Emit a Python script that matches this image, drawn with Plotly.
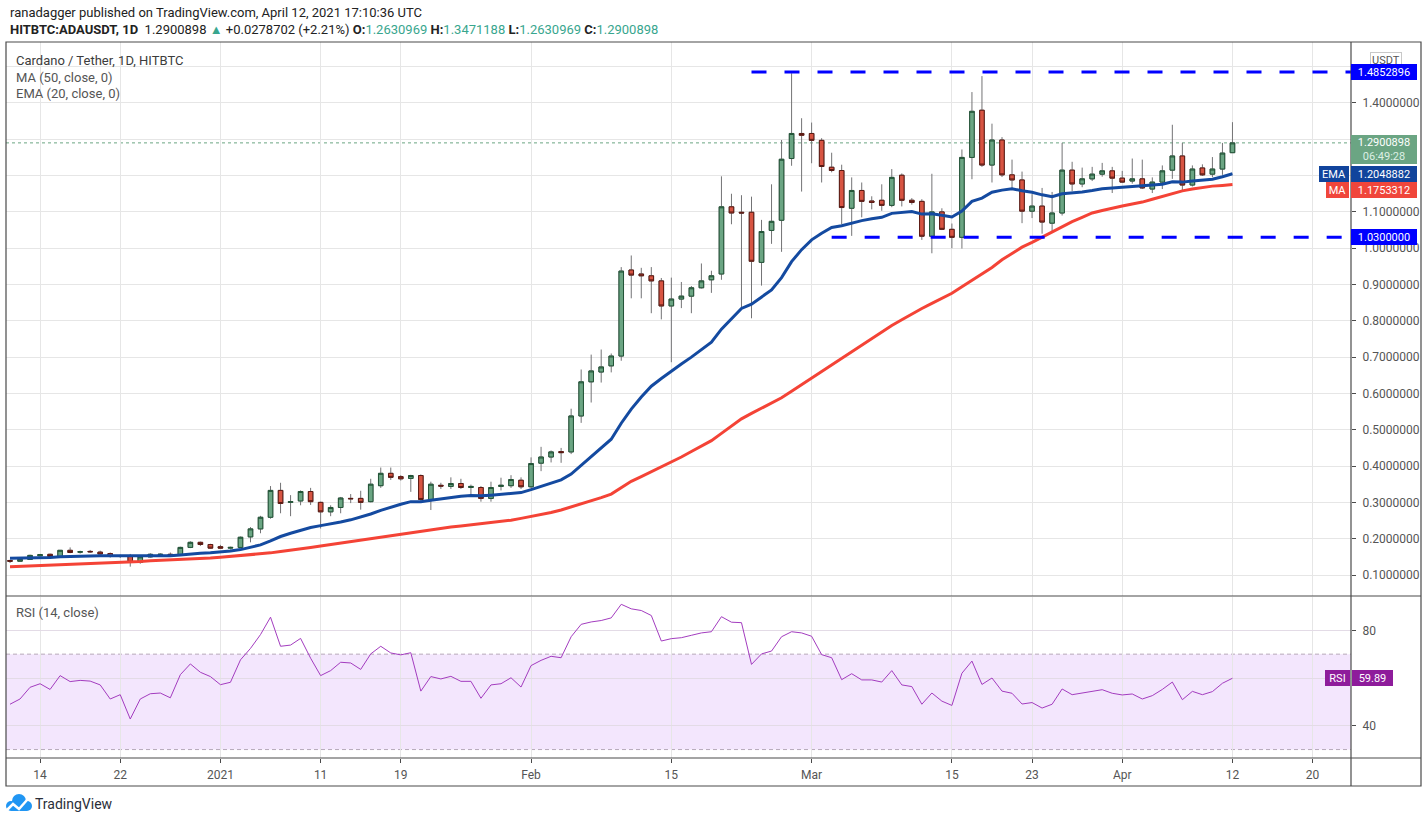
"""Cardano / Tether daily chart, TradingView style (HITBTC ADAUSDT)."""

import pandas as pd
import plotly.graph_objects as go

# daily candles from 2020-12-11 to 2021-04-12
dates = pd.date_range('2020-12-11', periods=123, freq='D')

open_ = [
  0.140, 0.138, 0.143, 0.153, 0.157, 0.151, 0.168, 0.163, 0.165, 0.163,
  0.159, 0.151, 0.153, 0.135, 0.150, 0.156, 0.157, 0.155, 0.176, 0.190,
  0.184, 0.178, 0.174, 0.176, 0.205, 0.227, 0.259, 0.333, 0.300, 0.304,
  0.330, 0.300, 0.274, 0.286, 0.311, 0.311, 0.302, 0.346, 0.380, 0.371,
  0.366, 0.374, 0.308, 0.347, 0.344, 0.352, 0.341, 0.341, 0.311, 0.344,
  0.346, 0.361, 0.343, 0.408, 0.425, 0.440, 0.439, 0.538, 0.632, 0.659,
  0.676, 0.703, 0.940, 0.929, 0.924, 0.910, 0.841, 0.860, 0.868, 0.891,
  0.913, 0.929, 1.114, 1.099, 1.099, 0.961, 1.049, 1.077, 1.247, 1.316,
  1.316, 1.297, 1.223, 1.214, 1.110, 1.159, 1.130, 1.132, 1.118, 1.201,
  1.132, 1.129, 1.033, 1.100, 1.052, 1.030, 1.250, 1.380, 1.229, 1.298,
  1.202, 1.188, 1.102, 1.116, 1.069, 1.097, 1.215, 1.177, 1.191, 1.204,
  1.213, 1.193, 1.185, 1.191, 1.163, 1.182, 1.215, 1.254, 1.174, 1.221,
  1.204, 1.218, 1.2630969,
]
high = [
  0.142, 0.145, 0.156, 0.158, 0.159, 0.169, 0.176, 0.167, 0.169, 0.167,
  0.162, 0.156, 0.158, 0.152, 0.160, 0.160, 0.162, 0.178, 0.193, 0.192,
  0.186, 0.183, 0.178, 0.206, 0.232, 0.263, 0.345, 0.354, 0.320, 0.333,
  0.340, 0.302, 0.292, 0.315, 0.323, 0.332, 0.365, 0.396, 0.396, 0.375,
  0.376, 0.377, 0.357, 0.354, 0.369, 0.365, 0.349, 0.345, 0.357, 0.368,
  0.375, 0.369, 0.424, 0.453, 0.443, 0.450, 0.558, 0.666, 0.707, 0.721,
  0.710, 0.948, 0.980, 0.946, 0.948, 0.918, 0.919, 0.907, 0.896, 0.958,
  0.938, 1.198, 1.150, 1.146, 1.142, 1.078, 1.176, 1.298, 1.482, 1.358,
  1.346, 1.303, 1.263, 1.230, 1.195, 1.181, 1.143, 1.176, 1.218, 1.206,
  1.138, 1.135, 1.205, 1.110, 1.068, 1.272, 1.430, 1.474, 1.343, 1.306,
  1.244, 1.211, 1.149, 1.166, 1.155, 1.290, 1.238, 1.222, 1.224, 1.235,
  1.224, 1.213, 1.247, 1.244, 1.195, 1.228, 1.340, 1.290, 1.228, 1.231,
  1.251, 1.290, 1.3471188,
]
low = [
  0.133, 0.137, 0.142, 0.151, 0.149, 0.150, 0.160, 0.159, 0.161, 0.156,
  0.148, 0.147, 0.123, 0.131, 0.148, 0.152, 0.150, 0.154, 0.174, 0.180,
  0.172, 0.173, 0.170, 0.175, 0.190, 0.215, 0.255, 0.270, 0.262, 0.292,
  0.293, 0.228, 0.262, 0.270, 0.298, 0.280, 0.300, 0.340, 0.362, 0.360,
  0.329, 0.302, 0.279, 0.337, 0.337, 0.337, 0.318, 0.302, 0.302, 0.333,
  0.340, 0.337, 0.338, 0.386, 0.410, 0.409, 0.433, 0.519, 0.575, 0.630,
  0.658, 0.690, 0.862, 0.862, 0.821, 0.804, 0.686, 0.835, 0.821, 0.889,
  0.877, 0.913, 1.066, 0.834, 0.807, 0.897, 1.012, 0.990, 1.227, 1.156,
  1.234, 1.181, 1.209, 1.066, 1.034, 1.085, 1.107, 1.103, 1.113, 1.115,
  1.120, 1.023, 0.986, 1.050, 1.000, 0.999, 1.190, 1.224, 1.181, 1.196,
  1.161, 1.069, 1.083, 1.040, 1.046, 1.090, 1.157, 1.168, 1.185, 1.197,
  1.152, 1.180, 1.178, 1.163, 1.152, 1.163, 1.191, 1.157, 1.170, 1.199,
  1.196, 1.202, 1.2630969,
]
close = [
  0.138, 0.143, 0.154, 0.156, 0.151, 0.168, 0.162, 0.164, 0.164, 0.158,
  0.151, 0.152, 0.135, 0.150, 0.157, 0.157, 0.155, 0.176, 0.190, 0.184,
  0.174, 0.174, 0.176, 0.204, 0.227, 0.259, 0.333, 0.297, 0.302, 0.330,
  0.302, 0.274, 0.286, 0.312, 0.310, 0.300, 0.350, 0.380, 0.369, 0.365,
  0.374, 0.308, 0.350, 0.345, 0.352, 0.341, 0.344, 0.311, 0.341, 0.347,
  0.363, 0.343, 0.407, 0.425, 0.439, 0.437, 0.538, 0.632, 0.662, 0.673,
  0.703, 0.937, 0.926, 0.924, 0.910, 0.841, 0.860, 0.868, 0.891, 0.910,
  0.924, 1.114, 1.097, 1.097, 0.964, 1.046, 1.074, 1.245, 1.316, 1.311,
  1.297, 1.225, 1.214, 1.112, 1.159, 1.129, 1.126, 1.118, 1.195, 1.132,
  1.126, 1.033, 1.100, 1.052, 1.030, 1.250, 1.377, 1.229, 1.298, 1.202,
  1.188, 1.102, 1.116, 1.072, 1.097, 1.215, 1.177, 1.191, 1.204, 1.213,
  1.193, 1.182, 1.191, 1.166, 1.182, 1.213, 1.254, 1.174, 1.218, 1.202,
  1.218, 1.262, 1.2900898,
]

# EMA (20, close) and MA (50, close) as drawn
ema20 = [
  0.146, 0.146, 0.147, 0.148, 0.148, 0.150, 0.151, 0.152, 0.153, 0.153,
  0.153, 0.153, 0.152, 0.152, 0.152, 0.153, 0.153, 0.155, 0.158, 0.160,
  0.161, 0.163, 0.166, 0.170, 0.176, 0.183, 0.194, 0.206, 0.215, 0.224,
  0.231, 0.236, 0.240, 0.246, 0.252, 0.259, 0.268, 0.278, 0.287, 0.295,
  0.302, 0.302, 0.306, 0.310, 0.313, 0.317, 0.319, 0.318, 0.320, 0.322,
  0.326, 0.327, 0.335, 0.344, 0.353, 0.362, 0.378, 0.402, 0.427, 0.450,
  0.474, 0.518, 0.557, 0.590, 0.620, 0.641, 0.662, 0.681, 0.700, 0.720,
  0.741, 0.777, 0.806, 0.834, 0.846, 0.865, 0.885, 0.919, 0.963, 0.996,
  1.023, 1.041, 1.057, 1.062, 1.070, 1.076, 1.081, 1.085, 1.096, 1.099,
  1.101, 1.094, 1.095, 1.091, 1.086, 1.102, 1.129, 1.138, 1.154, 1.160,
  1.164, 1.158, 1.154, 1.147, 1.142, 1.150, 1.152, 1.155, 1.159, 1.164,
  1.166, 1.168, 1.170, 1.170, 1.172, 1.176, 1.183, 1.182, 1.185, 1.187,
  1.190, 1.197, 1.2048882,
]
ma50 = [
  0.123, 0.124, 0.125, 0.126, 0.127, 0.128, 0.129, 0.130, 0.131, 0.132,
  0.134, 0.135, 0.136, 0.137, 0.139, 0.140, 0.141, 0.143, 0.144, 0.146,
  0.147, 0.149, 0.151, 0.153, 0.155, 0.158, 0.161, 0.165, 0.168, 0.172,
  0.176, 0.180, 0.184, 0.188, 0.193, 0.197, 0.201, 0.205, 0.209, 0.214,
  0.218, 0.222, 0.226, 0.229, 0.232, 0.235, 0.238, 0.241, 0.244, 0.248,
  0.251, 0.256, 0.261, 0.266, 0.272, 0.279, 0.287, 0.295, 0.304, 0.313,
  0.323, 0.341, 0.358, 0.371, 0.384, 0.397, 0.410, 0.425, 0.440, 0.455,
  0.470, 0.490, 0.510, 0.530, 0.545, 0.559, 0.573, 0.588, 0.606, 0.624,
  0.642, 0.661, 0.679, 0.697, 0.715, 0.733, 0.751, 0.770, 0.787, 0.803,
  0.819, 0.834, 0.848, 0.862, 0.876, 0.894, 0.911, 0.929, 0.947, 0.968,
  0.986, 1.003, 1.016, 1.030, 1.045, 1.060, 1.073, 1.085, 1.097, 1.104,
  1.111, 1.116, 1.122, 1.127, 1.135, 1.143, 1.152, 1.158, 1.163, 1.168,
  1.171, 1.173, 1.1753312,
]

# RSI (14, close)
rsi14 = [
  49.0, 51.2, 56.1, 57.6, 55.2, 61.0, 58.5, 59.0, 58.7, 57.1,
  51.2, 53.0, 42.8, 51.2, 53.4, 53.7, 51.7, 61.4, 65.9, 62.4,
  60.6, 57.2, 58.2, 67.6, 72.4, 78.2, 85.5, 73.3, 73.8, 76.6,
  68.3, 61.0, 63.1, 66.6, 66.3, 63.6, 70.1, 73.3, 70.5, 69.7,
  70.6, 54.5, 60.6, 59.6, 60.7, 58.6, 58.6, 51.5, 57.1, 57.6,
  60.1, 56.2, 65.2, 67.4, 69.1, 68.5, 77.3, 82.5, 83.5, 84.1,
  85.2, 90.9, 89.0, 88.3, 86.2, 75.5, 76.5, 76.9, 77.9, 78.9,
  79.4, 85.7, 83.4, 83.2, 65.7, 70.1, 71.3, 77.3, 79.4, 78.9,
  77.5, 69.8, 68.5, 59.3, 61.8, 59.2, 59.2, 58.3, 63.1, 57.1,
  56.4, 49.0, 53.7, 50.3, 48.5, 62.0, 67.1, 57.3, 60.0, 54.5,
  53.6, 49.1, 49.7, 47.4, 49.0, 55.4, 53.0, 53.7, 54.7, 55.1,
  53.6, 52.9, 53.3, 51.2, 52.6, 55.2, 58.3, 50.9, 54.4, 53.0,
  54.3, 57.8, 59.89,
]

# horizontal levels drawn on the chart
resistance = 1.4852896
resistance_from = '2021-02-23'
support = 1.03
support_from = '2021-03-03'

price_ticks = [0.1, 0.2, 0.3, 0.4, 0.5, 0.6, 0.7, 0.8, 0.9, 1.0, 1.1, 1.2, 1.3, 1.4, 1.5]
# labels hidden behind the price tags on the right scale
price_hidden = [1.2, 1.3, 1.5]
rsi_ticks = [40, 60, 80]
rsi_ticktext = ['40', '', '80']
x_tickvals = ['2020-12-14', '2020-12-22', '2021-01-01', '2021-01-11', '2021-01-19',
              '2021-02-01', '2021-02-15', '2021-03-01', '2021-03-15', '2021-03-23',
              '2021-04-01', '2021-04-12', '2021-04-20']
x_ticktext = ['14', '22', '2021', '11', '19', 'Feb', '15', 'Mar', '15', '23', 'Apr', '12', '20']

for arr in (open_, high, low, close, ema20, ma50, rsi14):
  assert len(arr) == len(dates)

# page geometry (pixels)
W, H = 1428, 823
L, R, T, B = 6, 1351, 42, 758


def px(x):
  return (x - L) / (R - L)


def py(y):
  return (B - y) / (B - T)


FONT = 'Roboto, Arial, sans-serif'
UP, UP_LINE = '#6ba583', '#225437'
DOWN, DOWN_LINE = '#d75442', '#5b1a13'
WICK = '#737375'
GRID = '#e6e6e6'
FRAME = '#4a4a4a'
EMA_C, MA_C, RSI_C = '#144aa0', '#f44336', '#a33cbf'

body_hi = [max(o, c) for o, c in zip(open_, close)]
body_lo = [min(o, c) for o, c in zip(open_, close)]

fig = go.Figure()

# wicks (grey) and bodies (coloured) as two candle layers
fig.add_trace(go.Candlestick(
  x=dates, open=open_, high=high, low=low, close=close,
  increasing=dict(line=dict(color=WICK, width=1), fillcolor=WICK),
  decreasing=dict(line=dict(color=WICK, width=1), fillcolor=WICK),
  whiskerwidth=0, hoverinfo='skip', showlegend=False,
  xaxis='x', yaxis='y'
))
fig.add_trace(go.Candlestick(
  x=dates, open=open_, high=body_hi, low=body_lo, close=close,
  increasing=dict(line=dict(color=UP_LINE, width=1), fillcolor=UP),
  decreasing=dict(line=dict(color=DOWN_LINE, width=1), fillcolor=DOWN),
  whiskerwidth=0, hoverinfo='skip', showlegend=False,
  xaxis='x', yaxis='y'
))
fig.add_trace(go.Scatter(
  x=dates, y=ma50, mode='lines', line=dict(color=MA_C, width=3),
  hoverinfo='skip', showlegend=False, xaxis='x', yaxis='y'
))
fig.add_trace(go.Scatter(
  x=dates, y=ema20, mode='lines', line=dict(color=EMA_C, width=3),
  hoverinfo='skip', showlegend=False, xaxis='x', yaxis='y'
))
fig.add_trace(go.Scatter(
  x=dates, y=rsi14, mode='lines', line=dict(color=RSI_C, width=1),
  hoverinfo='skip', showlegend=False, xaxis='x2', yaxis='y2'
))

x_range = ['2020-12-10 14:24', '2021-04-23 19:55']
tickfont = dict(family=FONT, size=12, color='#555555')

fig.update_layout(
  width=W, height=H,
  margin=dict(l=L, r=W - R, t=T, b=H - B, pad=0),
  paper_bgcolor='white', plot_bgcolor='white',
  font=dict(family=FONT, size=12, color='#333333'),
  showlegend=False, hovermode=False,
  boxgap=0.35,
  xaxis=dict(
    domain=[0, 1], anchor='y', matches='x2', range=x_range,
    rangeslider=dict(visible=False),
    tickvals=x_tickvals, showticklabels=False, ticks='',
    showgrid=True, gridcolor=GRID, gridwidth=1, zeroline=False, showline=False,
  ),
  yaxis=dict(
    domain=[py(596), 1], anchor='x', side='right', range=[0.0422, 1.5679],
    tickvals=price_ticks,
    ticktext=['' if v in price_hidden else '%.7f' % v for v in price_ticks],
    ticks='outside', ticklen=4, tickcolor=FRAME, tickfont=tickfont,
    ticklabelstandoff=4,
    showgrid=True, gridcolor=GRID, gridwidth=1, zeroline=False, showline=False,
  ),
  xaxis2=dict(
    domain=[0, 1], anchor='y2', range=x_range,
    rangeslider=dict(visible=False),
    tickvals=x_tickvals, ticktext=x_ticktext,
    ticks='outside', ticklen=4, tickcolor=FRAME, tickfont=tickfont,
    ticklabelstandoff=2,
    showgrid=True, gridcolor=GRID, gridwidth=1, zeroline=False, showline=False,
  ),
  yaxis2=dict(
    domain=[0, py(597)], anchor='x2', side='right', range=[26.46, 93.96],
    tickvals=rsi_ticks, ticktext=rsi_ticktext,
    ticks='outside', ticklen=4, tickcolor=FRAME, tickfont=tickfont,
    ticklabelstandoff=4,
    showgrid=True, gridcolor='#e3dbe6', gridwidth=1, zeroline=False, showline=False,
  ),
)

shapes = []
# RSI band 30-70
shapes.append(dict(type='rect', xref='x2', yref='y2', x0=x_range[0], x1=x_range[1], y0=30, y1=70,
                   fillcolor='#f3e6fd', line=dict(width=0), layer='below'))
for lvl in (30, 70):
  shapes.append(dict(type='line', xref='x2', yref='y2', x0=x_range[0], x1=x_range[1],
                     y0=lvl, y1=lvl,
                     line=dict(color='#b6a9ba', width=1, dash='4px,3px'), layer='below'))
# last price dotted line
shapes.append(dict(type='line', xref='x', yref='y', x0=x_range[0], x1=x_range[1],
                   y0=close[-1], y1=close[-1],
                   line=dict(color=UP, width=1, dash='dot'), layer='below'))
# resistance / support drawings
shapes.append(dict(type='line', xref='x', yref='y', x0=resistance_from, x1=x_range[1],
                   y0=resistance, y1=resistance,
                   line=dict(color='#0000ff', width=3, dash='15px,18px'), layer='above'))
shapes.append(dict(type='line', xref='x', yref='y', x0=support_from, x1=x_range[1],
                   y0=support, y1=support,
                   line=dict(color='#0000ff', width=3, dash='15px,18px'), layer='above'))
# frame
fr = dict(color=FRAME, width=1.2)
shapes.append(dict(type='rect', xref='paper', yref='paper', x0=0, x1=px(1421), y0=py(786), y1=1,
                   line=fr, fillcolor='rgba(0,0,0,0)', layer='above'))
shapes.append(dict(type='line', xref='paper', yref='paper', x0=1, x1=1, y0=py(786), y1=1,
                   line=fr, layer='above'))
shapes.append(dict(type='line', xref='paper', yref='paper', x0=0, x1=px(1421), y0=0, y1=0,
                   line=fr, layer='above'))
shapes.append(dict(type='line', xref='paper', yref='paper', x0=0, x1=px(1421),
                   y0=py(596), y1=py(596), line=fr, layer='above'))
# TradingView logo (cloud)
LOGO = '#2196f3'
for cx, cy, r in [(11, 806, 5), (19, 801, 7), (27, 806, 5)]:
  shapes.append(dict(type='circle', xref='paper', yref='paper',
                     x0=px(cx - r), x1=px(cx + r), y0=py(cy + r), y1=py(cy - r),
                     fillcolor=LOGO, line=dict(width=0), layer='above'))
shapes.append(dict(type='rect', xref='paper', yref='paper', x0=px(11), x1=px(27),
                   y0=py(811), y1=py(805), fillcolor=LOGO, line=dict(width=0), layer='above'))
path = 'M %f,%f L %f,%f L %f,%f L %f,%f' % (px(7), py(810), px(13), py(804),
                                            px(19), py(809), px(27), py(800))
shapes.append(dict(type='path', xref='paper', yref='paper', path=path,
                   line=dict(color='white', width=2.5), layer='above'))
fig.update_layout(shapes=shapes)

ann = []


def text(x, y, s, size=13, color='#333333'):
  ann.append(dict(xref='paper', yref='paper', x=px(x), y=py(y), text=s, showarrow=False,
                  xanchor='left', yanchor='middle', font=dict(family=FONT, size=size, color=color)))


def tag(y, s, bg, yref='y', x=1351, anchor='left', w=64, h=14, yshift=0, color='white', **kw):
  ann.append(dict(xref='paper', yref=yref, x=px(x), y=y, text=s, showarrow=False,
                  xanchor=anchor, yanchor='middle', width=w, height=h, bgcolor=bg,
                  borderpad=1, borderwidth=0, yshift=yshift,
                  font=dict(family=FONT, size=11, color=color), **kw))


TEAL = '#38a68e'
text(8, 12, 'ranadagger published on TradingView.com, April 12, 2021 17:10:36 UTC', 13, '#222222')
text(8, 29, '<b>HITBTC:ADAUSDT, 1D</b>  %.7f <span style="color:%s">▲</span> +0.0278702 (+2.21%%) '
     '<b>O:</b><span style="color:%s">%.7f</span> <b>H:</b><span style="color:%s">%.7f</span> '
     '<b>L:</b><span style="color:%s">%.7f</span> <b>C:</b><span style="color:%s">%.7f</span>'
     % (close[-1], TEAL, TEAL, open_[-1], TEAL, high[-1], TEAL, low[-1], TEAL, close[-1]),
     13, '#222222')
text(14, 60, 'Cardano / Tether, 1D, HITBTC', 13, '#3c3c3c')
text(14, 77, 'MA (50, close, 0)', 13, '#555555')
text(14, 94, 'EMA (20, close, 0)', 13, '#555555')
text(14, 612, 'RSI (14, close)', 13, '#555555')
text(33, 804, 'TradingView', 14, '#2a2e39')

# right scale labels
ann.append(dict(xref='paper', yref='paper', x=px(1386), y=py(60), text='USDT', showarrow=False,
                xanchor='center', yanchor='middle', bgcolor='white', bordercolor='#c8c8c8',
                borderwidth=1, borderpad=1, font=dict(family=FONT, size=11, color='#555555')))
tag(resistance, '%.7f' % resistance, '#0000ff')
tag(support, '%.7f' % support, '#0000ff')
tag(close[-1], '%.7f<br><span style="color:#dcefe3">06:49:28</span>' % close[-1], UP,
    h=27, yshift=-7)
tag(ema20[-1], 'EMA', '#11449c', x=1349, anchor='right', w=28)
tag(ema20[-1], '%.7f' % ema20[-1], '#11449c')
tag(ma50[-1], 'MA', '#f0463b', x=1349, anchor='right', w=21, yshift=-5)
tag(ma50[-1], '%.7f' % ma50[-1], '#f0463b', yshift=-5)
tag(rsi14[-1], 'RSI', '#8e1c9b', yref='y2', x=1350, anchor='right', w=23)
tag(rsi14[-1], '%.2f' % rsi14[-1], '#8e1c9b', yref='y2', x=1352, w=39)
fig.update_layout(annotations=ann)

fig.write_html("out.html", config={'displayModeBar': False},
               post_script="document.body.style.margin='0';")
